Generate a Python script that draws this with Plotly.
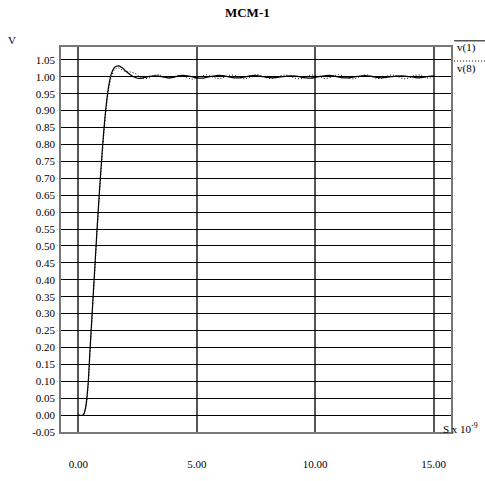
import plotly.graph_objects as go

# time in ns
t = [0.0, 0.2, 0.3, 0.4, 0.5, 0.6, 0.7, 0.8, 0.9, 1.0, 1.1, 1.2, 1.3, 1.4, 1.5, 1.6, 1.7, 1.8, 1.9,
     2.0, 2.2, 2.4, 2.6, 2.8, 3.0, 3.2, 3.4, 3.6, 3.8, 4.0,
     4.2, 4.4, 4.6, 4.8, 5.0, 5.2, 5.4, 5.6, 5.8, 6.0, 6.2, 6.4, 6.6, 6.8, 7.0, 7.2, 7.4, 7.6, 7.8, 8.0,
     8.2, 8.4, 8.6, 8.8, 9.0, 9.2, 9.4, 9.6, 9.8, 10.0, 10.2, 10.4, 10.6, 10.8, 11.0, 11.2, 11.4, 11.6, 11.8, 12.0,
     12.2, 12.4, 12.6, 12.8, 13.0, 13.2, 13.4, 13.6, 13.8, 14.0, 14.2, 14.4, 14.6, 14.8, 15.0]

v1 = [0.0, 0.0, 0.02, 0.08, 0.2, 0.32, 0.44, 0.56, 0.67, 0.77, 0.86, 0.93, 0.98, 1.01, 1.025, 1.031, 1.032, 1.029, 1.024,
      1.017, 1.006, 0.998, 0.995, 0.998, 1.001, 1.003, 1.002, 0.999, 0.997, 0.998,
      1.002, 1.004, 1.003, 1.000, 0.997, 0.996, 0.998, 1.001, 1.003, 1.004, 1.002, 0.999, 0.997, 0.997, 0.999, 1.002, 1.004, 1.003, 1.000, 0.998,
      0.997, 0.998, 1.000, 1.002, 1.003, 1.002, 0.999, 0.997, 0.996, 0.998, 1.001, 1.003, 1.004, 1.002, 0.999, 0.997, 0.997, 0.999, 1.001, 1.003,
      1.003, 1.001, 0.998, 0.997, 0.998, 1.000, 1.002, 1.003, 1.002, 1.000, 0.998, 0.997, 0.999, 1.001, 1.003]

v8 = [0.0, 0.0, 0.015, 0.07, 0.19, 0.31, 0.43, 0.55, 0.66, 0.76, 0.85, 0.92, 0.97, 1.0, 1.018, 1.024, 1.026, 1.022, 1.018,
      1.016, 1.014, 1.010, 1.000, 0.995, 0.997, 1.004, 1.006, 1.000, 0.996, 0.998,
      1.004, 1.003, 0.998, 0.993, 0.997, 1.002, 1.006, 1.001, 0.996, 0.995, 1.000, 1.005, 1.004, 0.998, 0.994, 0.998, 1.004, 1.006, 1.001, 0.996,
      0.995, 0.999, 1.004, 1.005, 1.000, 0.995, 0.994, 0.999, 1.005, 1.004, 0.999, 0.995, 0.997, 1.003, 1.006, 1.002, 0.996, 0.994, 0.998, 1.004,
      1.005, 1.000, 0.995, 0.996, 1.001, 1.005, 1.003, 0.997, 0.994, 0.998, 1.004, 1.005, 1.000, 0.996, 1.002]

y_ticks = [-0.05 + 0.05 * i for i in range(23)]
x_ticks = [0, 5, 10, 15]

FONT = "Liberation Serif"
FS = 11

fig = go.Figure()
fig.add_trace(go.Scatter(x=t, y=v8, mode="lines", name="v(8)",
                         line=dict(color="black", width=1, dash="1px,2px", shape="spline"), showlegend=False))
fig.add_trace(go.Scatter(x=t, y=v1, mode="lines", name="v(1)",
                         line=dict(color="black", width=1.2, shape="spline"), showlegend=False))

fig.update_layout(
    width=485, height=481,
    margin=dict(l=61, r=34, t=47, b=49),
    paper_bgcolor="white", plot_bgcolor="white",
    font=dict(family=FONT, size=FS, color="black"),
    title=dict(text="<b>MCM-1</b>", x=0.51, xanchor="center", y=0.975, yanchor="middle",
               font=dict(family=FONT, size=13, color="black")),
)
fig.update_xaxes(range=[-0.73, 15.73], tickvals=x_ticks, ticktext=["%.2f" % v for v in x_ticks],
                 showgrid=True, gridcolor="#555555", gridwidth=1.5, zeroline=False,
                 showline=True, linecolor="#777777", linewidth=1.5, mirror=True,
                 ticks="outside", ticklen=21, tickcolor="rgba(0,0,0,0)",
                 tickfont=dict(family=FONT, size=FS, color="black"))
fig.update_yaxes(range=[-0.05, 1.088], tickvals=y_ticks, ticktext=["%.2f" % v for v in y_ticks],
                 showgrid=True, gridcolor="black", gridwidth=1, zeroline=False,
                 showline=True, linecolor="#777777", linewidth=1.5, mirror=True,
                 ticks="outside", ticklen=2, tickcolor="rgba(0,0,0,0)",
                 tickfont=dict(family=FONT, size=FS, color="black"))

# axis unit labels
fig.add_annotation(text="V", xref="paper", yref="paper", x=-0.125, y=1.018, xanchor="center", yanchor="middle",
                   showarrow=False, font=dict(family=FONT, size=FS))
fig.add_annotation(text="S x 10<sup>-9</sup>", xref="paper", yref="paper", x=0.975, y=0.01, xanchor="left",
                   yanchor="middle", showarrow=False, font=dict(family=FONT, size=FS))

# legend (top right)
fig.add_shape(type="line", xref="paper", yref="paper", x0=1.008, x1=1.09, y0=1.016, y1=1.016,
              line=dict(color="black", width=1))
fig.add_annotation(text="v(1)", xref="paper", yref="paper", x=1.01, y=1.0, xanchor="left", yanchor="middle",
                   showarrow=False, font=dict(family=FONT, size=FS))
fig.add_shape(type="line", xref="paper", yref="paper", x0=1.008, x1=1.09, y0=0.9636, y1=0.9636,
              line=dict(color="black", width=1, dash="1px,2px"))
fig.add_annotation(text="v(8)", xref="paper", yref="paper", x=1.01, y=0.945, xanchor="left", yanchor="middle",
                   showarrow=False, font=dict(family=FONT, size=FS))

fig.write_html("out.html")
